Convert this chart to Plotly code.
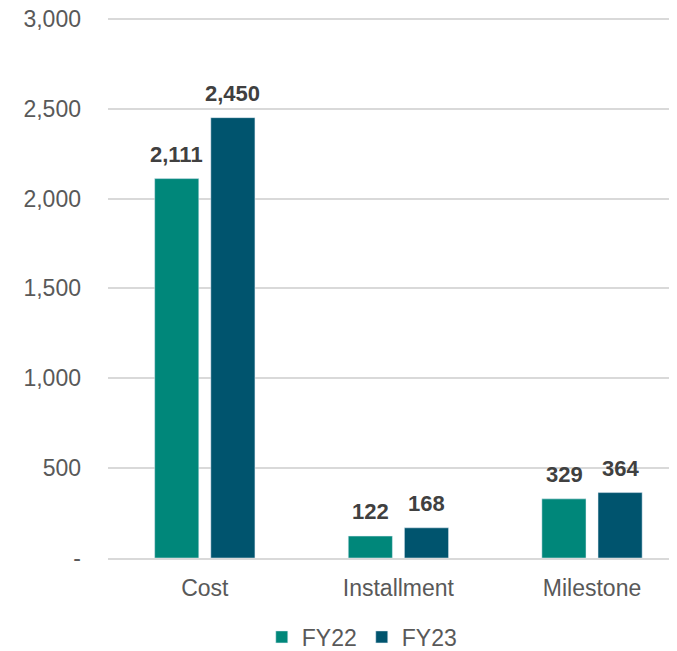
import plotly.graph_objects as go

# Data
categories = ['Cost', 'Installment', 'Milestone']
fy22 = [2111, 122, 329]
fy23 = [2450, 168, 364]
y_ticks = [0, 500, 1000, 1500, 2000, 2500, 3000]
y_tick_text = ['-', '500', '1,000', '1,500', '2,000', '2,500', '3,000']

FONT = 'Liberation Sans, Arial, sans-serif'
TEXT_GRAY = '#595959'
LABEL_GRAY = '#404040'
GRID = '#D9D9D9'

fig = go.Figure()

fig.add_trace(go.Bar(x=categories, y=fy22, name='FY22', marker_color='#00877A'))
fig.add_trace(go.Bar(x=categories, y=fy23, name='FY23', marker_color='#00546E'))

# Bold value labels above each bar
for series, shift in ((fy22, -28), (fy23, 28)):
    for cat, val in zip(categories, series):
        fig.add_annotation(
            x=cat, y=val, text=f'<b>{val:,}</b>',
            showarrow=False, yanchor='bottom', xshift=shift, yshift=10,
            font=dict(family=FONT, size=22, color=LABEL_GRAY),
        )

fig.update_layout(
    width=669, height=643,
    margin=dict(l=100, r=0, t=9, b=93, autoexpand=False),
    plot_bgcolor='white', paper_bgcolor='white',
    barmode='group', bargap=0.42, bargroupgap=0.214,
    font=dict(family=FONT, size=23, color=TEXT_GRAY),
    showlegend=True,
    legend=dict(
        orientation='h', x=0.446, xanchor='center', y=-0.146, yanchor='middle',
        font=dict(family=FONT, size=23, color=TEXT_GRAY),
        itemwidth=30, traceorder='normal',
    ),
)

fig.update_xaxes(
    range=[-0.5, 2.439], showgrid=False, ticks='', ticklabelstandoff=8,
    showline=True, linecolor=GRID, linewidth=2, automargin=False,
    tickfont=dict(family=FONT, size=23, color=TEXT_GRAY),
)
fig.update_yaxes(
    range=[0, 3010], tickvals=y_ticks, ticktext=y_tick_text,
    showgrid=True, gridcolor=GRID, gridwidth=1.5, zeroline=False,
    ticks='', ticklabelstandoff=26, automargin=False, ticklabeloverflow='allow',
    tickfont=dict(family=FONT, size=23, color=TEXT_GRAY),
)

fig.write_html('out.html')
